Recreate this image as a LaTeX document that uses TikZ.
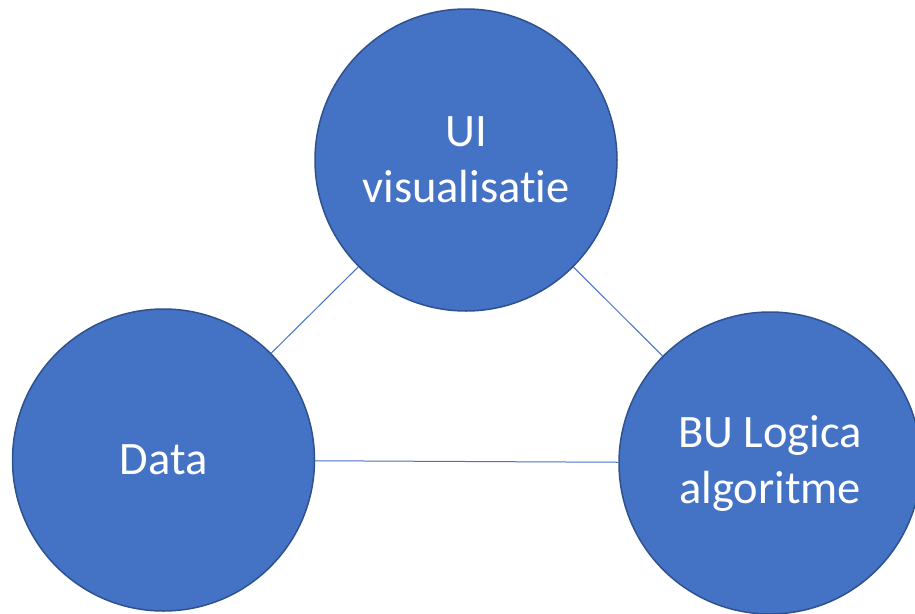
\documentclass[tikz,border=0pt]{standalone}
\usepackage{fontspec}
\setmainfont[RawFeature={-liga}]{Carlito}
\definecolor{officeblue}{HTML}{4472C4}
\definecolor{rimblue}{HTML}{2F528F}
\begin{document}
\begin{tikzpicture}[x=1pt,y=-1pt,
  bubble/.style={circle, fill=officeblue, draw=rimblue, line width=1.5pt,
    minimum size=302pt, inner sep=0pt, text=white, align=center,
    font=\fontsize{46.5}{56}\selectfont},
  link/.style={draw=officeblue, line width=1pt}]
\useasboundingbox (0,0) rectangle (915,613);
\node[bubble] (ui) at (466,160) {UI\\visualisatie};
\node[bubble] (data) at (163.5,460) {Data};
\node[bubble] (bu) at (770,463) {BU Logica\\algoritme};
\draw[link] (data) -- (ui);
\draw[link] (ui) -- (bu);
\draw[link] (data) -- (bu);
\end{tikzpicture}
\end{document}
